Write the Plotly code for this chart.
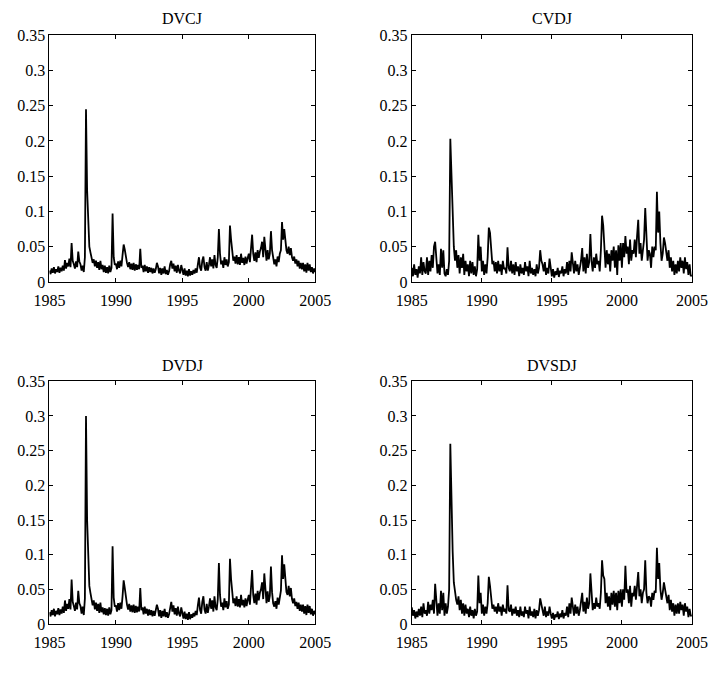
import plotly.graph_objects as go

# Monthly samples, Jan 1985 ... Jan 2005
start_year = 1985
titles = ["DVCJ", "CVDJ", "DVDJ", "DVSDJ"]

dvcj = [
    .016,.011,.019,.013,.021,.012,.018,.014,.022,.013,.020,.015,
    .023,.016,.031,.019,.027,.022,.033,.021,.055,.030,.025,.019,
    .029,.021,.043,.029,.025,.016,.023,.014,.035,.245,.130,.090,
    .050,.042,.035,.027,.032,.022,.030,.020,.028,.017,.030,.018,
    .024,.014,.023,.013,.021,.012,.023,.014,.020,.097,.035,.024,
    .026,.018,.029,.020,.030,.022,.038,.053,.046,.034,.027,.021,
    .028,.018,.026,.017,.027,.016,.025,.017,.024,.018,.047,.020,
    .023,.014,.024,.015,.022,.013,.021,.014,.020,.012,.019,.013,
    .018,.027,.022,.012,.020,.010,.019,.012,.022,.011,.017,.010,
    .015,.025,.030,.019,.026,.015,.023,.013,.024,.016,.012,.024,
    .017,.010,.019,.009,.016,.008,.018,.009,.015,.010,.017,.012,
    .019,.013,.025,.035,.020,.016,.030,.036,.021,.016,.028,.016,
    .024,.035,.022,.032,.019,.038,.024,.020,.035,.075,.040,.025,
    .030,.020,.035,.024,.032,.022,.028,.080,.060,.040,.030,.036,
    .026,.038,.025,.035,.024,.040,.027,.034,.024,.036,.026,.034,
    .040,.028,.045,.067,.040,.030,.042,.028,.045,.034,.043,.048,
    .057,.035,.064,.045,.030,.045,.032,.040,.072,.045,.030,.025,
    .032,.022,.036,.028,.040,.045,.085,.060,.075,.055,.045,.040,
    .050,.038,.048,.035,.030,.036,.026,.032,.022,.030,.019,.027,
    .018,.027,.015,.025,.013,.027,.016,.025,.014,.021,.012,.019,
    .014,
]

cvdj = [
    .020,.008,.025,.010,.018,.006,.022,.012,.035,.010,.028,.015,
    .012,.035,.010,.030,.015,.038,.020,.050,.057,.030,.012,.025,
    .010,.047,.020,.045,.012,.008,.018,.010,.030,.203,.145,.090,
    .050,.030,.045,.020,.038,.012,.035,.020,.040,.010,.030,.015,
    .025,.008,.030,.012,.028,.010,.022,.008,.018,.067,.030,.050,
    .015,.030,.010,.025,.012,.035,.077,.070,.040,.025,.030,.015,
    .028,.012,.030,.015,.025,.010,.030,.018,.020,.012,.049,.020,
    .015,.030,.012,.025,.010,.028,.015,.022,.008,.025,.012,.020,
    .010,.028,.015,.022,.008,.030,.012,.020,.010,.018,.008,.025,
    .012,.020,.045,.030,.025,.015,.028,.010,.020,.012,.033,.018,
    .008,.018,.006,.015,.010,.020,.007,.016,.012,.022,.008,.018,
    .012,.028,.010,.030,.015,.042,.020,.012,.030,.015,.025,.010,
    .020,.030,.048,.015,.035,.012,.040,.020,.028,.068,.030,.015,
    .035,.020,.040,.025,.030,.015,.045,.094,.080,.040,.020,.045,
    .025,.040,.015,.045,.030,.050,.020,.045,.010,.052,.030,.055,
    .020,.055,.035,.065,.040,.050,.025,.060,.030,.045,.040,.060,
    .035,.065,.088,.040,.055,.030,.045,.060,.105,.050,.030,.045,
    .040,.020,.050,.035,.050,.045,.128,.070,.100,.055,.030,.040,
    .063,.055,.040,.030,.045,.020,.035,.015,.030,.010,.025,.012,
    .030,.015,.035,.020,.030,.012,.035,.018,.028,.010,.025,.008,
    .010,
]

dvdj = [
    .017,.011,.020,.013,.022,.011,.019,.014,.023,.013,.021,.015,
    .025,.016,.034,.019,.029,.022,.036,.021,.064,.032,.026,.019,
    .031,.021,.048,.030,.026,.015,.025,.013,.037,.300,.150,.100,
    .055,.045,.037,.027,.034,.021,.031,.019,.029,.016,.031,.017,
    .024,.014,.023,.013,.022,.012,.024,.014,.020,.112,.038,.025,
    .027,.018,.030,.020,.031,.022,.040,.063,.052,.036,.028,.021,
    .029,.018,.027,.017,.028,.016,.026,.017,.025,.018,.052,.020,
    .024,.014,.025,.015,.022,.012,.021,.013,.020,.011,.019,.012,
    .018,.028,.022,.011,.020,.009,.019,.011,.022,.010,.017,.009,
    .014,.026,.032,.018,.027,.014,.023,.012,.025,.015,.011,.024,
    .016,.008,.018,.007,.015,.006,.017,.007,.014,.009,.016,.011,
    .019,.013,.027,.038,.020,.015,.032,.040,.021,.015,.029,.016,
    .025,.037,.022,.034,.018,.040,.024,.020,.036,.088,.042,.025,
    .031,.020,.037,.024,.033,.022,.028,.094,.065,.042,.030,.037,
    .026,.040,.025,.036,.024,.042,.027,.035,.024,.037,.026,.035,
    .042,.028,.048,.078,.042,.030,.044,.028,.048,.034,.045,.050,
    .060,.036,.073,.046,.030,.047,.032,.041,.083,.046,.030,.025,
    .033,.022,.038,.028,.042,.048,.099,.065,.086,.058,.046,.042,
    .055,.040,.052,.036,.030,.037,.026,.032,.022,.031,.019,.028,
    .018,.028,.015,.026,.013,.028,.016,.026,.014,.022,.012,.019,
    .014,
]

dvsdj = [
    .024,.012,.020,.008,.018,.010,.022,.012,.025,.010,.030,.015,
    .020,.012,.032,.015,.028,.020,.035,.015,.058,.025,.012,.030,
    .015,.048,.020,.045,.012,.030,.015,.025,.050,.260,.170,.105,
    .060,.045,.035,.028,.040,.020,.035,.015,.030,.012,.028,.015,
    .022,.010,.025,.012,.020,.008,.022,.012,.018,.070,.030,.045,
    .015,.028,.012,.025,.015,.030,.068,.055,.035,.022,.028,.018,
    .025,.015,.030,.018,.025,.012,.028,.018,.022,.015,.056,.020,
    .018,.028,.012,.022,.015,.025,.012,.020,.010,.025,.012,.018,
    .010,.025,.015,.020,.008,.025,.012,.018,.010,.022,.008,.020,
    .012,.020,.037,.025,.020,.012,.025,.010,.018,.012,.025,.015,
    .008,.016,.006,.014,.010,.018,.007,.015,.010,.020,.008,.016,
    .012,.025,.010,.030,.015,.038,.020,.012,.028,.015,.025,.012,
    .020,.030,.045,.018,.032,.015,.038,.022,.030,.073,.035,.020,
    .030,.022,.038,.025,.030,.022,.045,.092,.070,.065,.030,.045,
    .025,.040,.020,.045,.028,.048,.025,.045,.020,.048,.030,.050,
    .025,.050,.035,.084,.045,.050,.030,.055,.025,.045,.040,.055,
    .035,.060,.075,.040,.050,.030,.045,.050,.092,.045,.030,.040,
    .038,.025,.045,.035,.048,.045,.110,.065,.088,.050,.035,.045,
    .060,.050,.040,.030,.042,.020,.035,.018,.030,.012,.028,.015,
    .030,.015,.032,.020,.028,.012,.030,.018,.025,.010,.022,.012,
    .012,
]

x_ticks = [1985, 1990, 1995, 2000, 2005]
x_ticklabels = ["1985", "1990", "1995", "2000", "2005"]
y_ticks = [0, 0.05, 0.1, 0.15, 0.2, 0.25, 0.3, 0.35]
y_ticklabels = ["0", "0.05", "0.1", "0.15", "0.2", "0.25", "0.3", "0.35"]

W, H = 728, 673
series = [dvcj, cvdj, dvdj, dvsdj]
# pixel boxes (left, right, top, bottom)
boxes = [(35, 313, 28, 281), (414, 707, 28, 281),
         (35, 313, 383, 632), (414, 707, 383, 632)]
title_y = [11, 11, 367, 367]

fig = go.Figure()
font = dict(family="Liberation Serif, Times New Roman, serif", size=16, color="black")

for i, (vals, box) in enumerate(zip(series, boxes)):
    t = [start_year + k / 12 for k in range(len(vals))]
    n = "" if i == 0 else str(i + 1)
    fig.add_trace(go.Scatter(x=t, y=vals, mode="lines",
                             line=dict(color="black", width=1.8),
                             xaxis="x" + n, yaxis="y" + n, showlegend=False,
                             hoverinfo="skip"))
    l, r, tp, b = box
    common = dict(showline=True, linecolor="black", linewidth=1, mirror="ticks",
                  ticks="inside", ticklen=4, tickcolor="black", showgrid=False,
                  zeroline=False, tickfont=font)
    fig.layout["xaxis" + n] = dict(domain=[l / W, r / W], range=[1985, 2005],
                                   tickvals=x_ticks, ticktext=x_ticklabels,
                                   anchor="y" + n, ticklabelstandoff=4, **common)
    fig.layout["yaxis" + n] = dict(domain=[1 - b / H, 1 - tp / H], range=[0, 0.35],
                                   tickvals=y_ticks, ticktext=y_ticklabels,
                                   anchor="x" + n, ticklabelstandoff=0, **common)
    fig.add_annotation(text=titles[i], x=(l + r) / 2 / W, y=1 - title_y[i] / H,
                       xref="paper", yref="paper", xanchor="center", yanchor="middle",
                       showarrow=False, font=font)

fig.update_layout(width=W, height=H, margin=dict(l=0, r=0, t=0, b=0),
                  paper_bgcolor="white", plot_bgcolor="white")
fig.write_html("out.html")
